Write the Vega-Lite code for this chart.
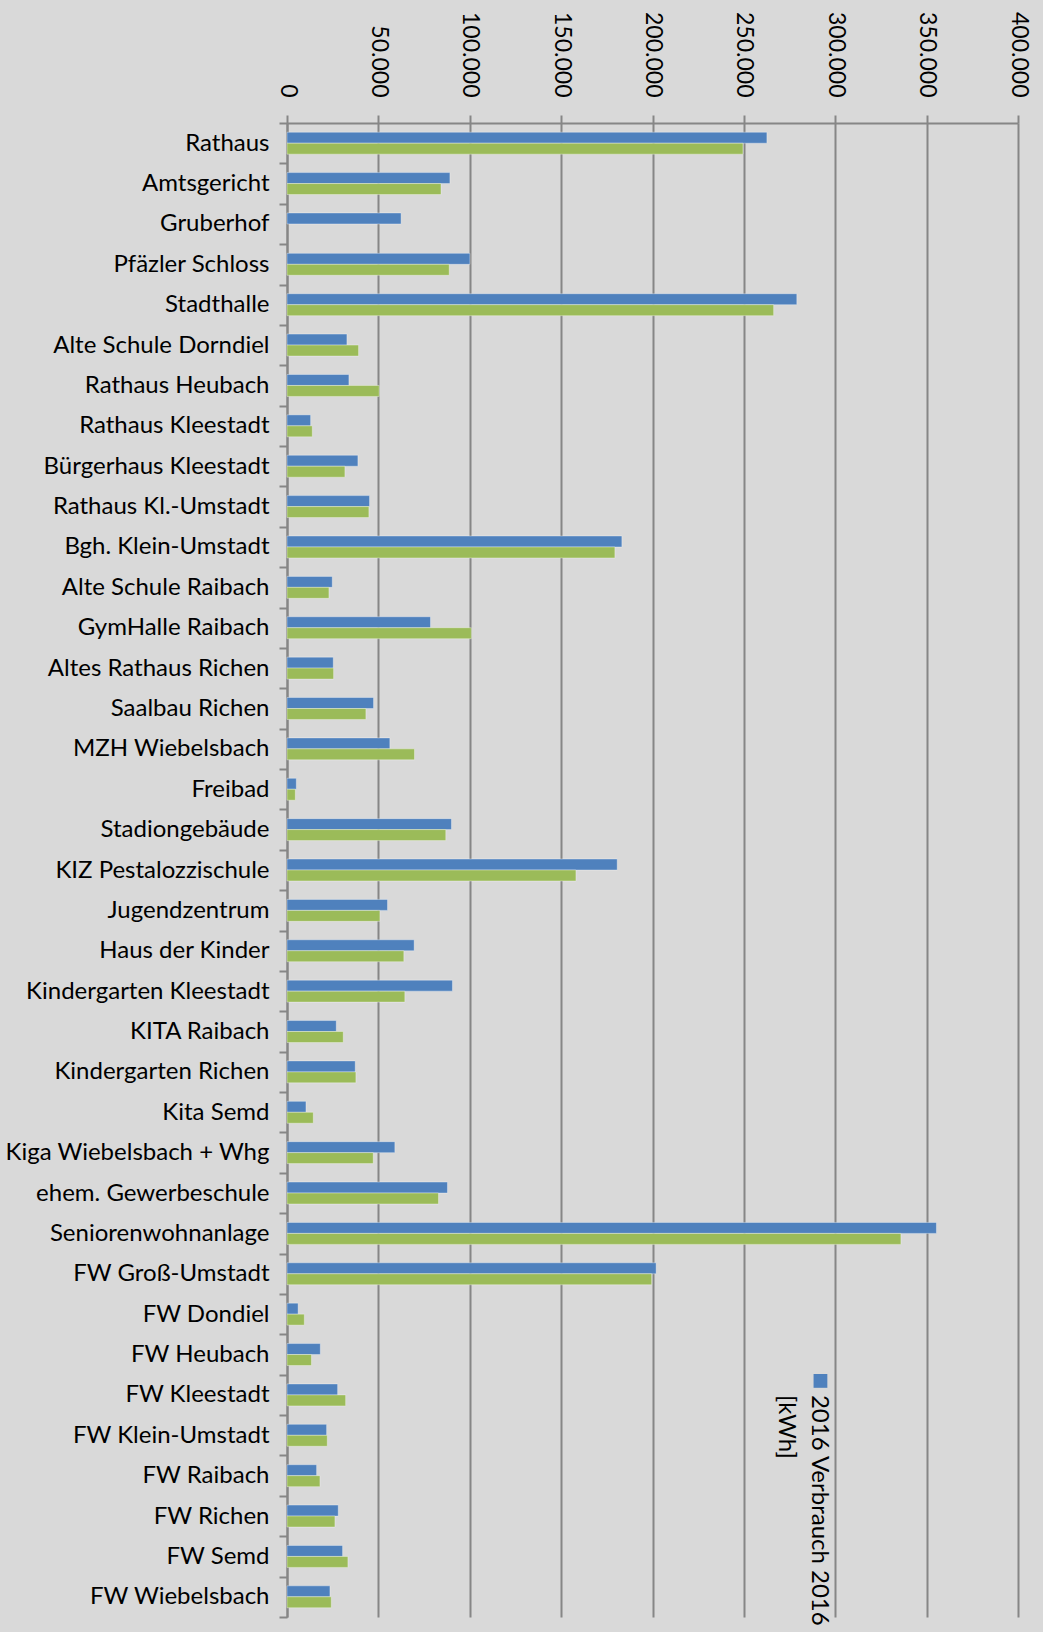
{
  "$schema": "https://vega.github.io/schema/vega-lite/v6.json",
  "width": 731,
  "height": 1494,
  "autosize": {"type": "none"},
  "padding": {"left": 287, "top": 123, "right": 25, "bottom": 15},
  "background": "#d9d9d9",
  "config": {
    "view": {"stroke": null},
    "font": "Lato"
  },
  "datasets": {
    "verbrauch": [
      {"gebaeude": "Rathaus", "serie": "2016", "kwh": 262600},
      {"gebaeude": "Rathaus", "serie": "2015", "kwh": 249500},
      {"gebaeude": "Amtsgericht", "serie": "2016", "kwh": 89150},
      {"gebaeude": "Amtsgericht", "serie": "2015", "kwh": 84270},
      {"gebaeude": "Gruberhof", "serie": "2016", "kwh": 62430},
      {"gebaeude": "Pfäzler Schloss", "serie": "2016", "kwh": 100100},
      {"gebaeude": "Pfäzler Schloss", "serie": "2015", "kwh": 88760},
      {"gebaeude": "Stadthalle ", "serie": "2016", "kwh": 278970},
      {"gebaeude": "Stadthalle ", "serie": "2015", "kwh": 266290},
      {"gebaeude": "Alte Schule Dorndiel", "serie": "2016", "kwh": 32790},
      {"gebaeude": "Alte Schule Dorndiel", "serie": "2015", "kwh": 39160},
      {"gebaeude": "Rathaus Heubach", "serie": "2016", "kwh": 33880},
      {"gebaeude": "Rathaus Heubach", "serie": "2015", "kwh": 50460},
      {"gebaeude": "Rathaus Kleestadt", "serie": "2016", "kwh": 12930},
      {"gebaeude": "Rathaus Kleestadt", "serie": "2015", "kwh": 13840},
      {"gebaeude": "Bürgerhaus Kleestadt", "serie": "2016", "kwh": 38800},
      {"gebaeude": "Bürgerhaus Kleestadt", "serie": "2015", "kwh": 31690},
      {"gebaeude": "Rathaus Kl.-Umstadt", "serie": "2016", "kwh": 45170},
      {"gebaeude": "Rathaus Kl.-Umstadt", "serie": "2015", "kwh": 44810},
      {"gebaeude": "Bgh. Klein-Umstadt", "serie": "2016", "kwh": 183240},
      {"gebaeude": "Bgh. Klein-Umstadt", "serie": "2015", "kwh": 179420},
      {"gebaeude": "Alte Schule Raibach", "serie": "2016", "kwh": 24770},
      {"gebaeude": "Alte Schule Raibach", "serie": "2015", "kwh": 22950},
      {"gebaeude": "GymHalle Raibach", "serie": "2016", "kwh": 78510},
      {"gebaeude": "GymHalle Raibach", "serie": "2015", "kwh": 100910},
      {"gebaeude": "Altes Rathaus Richen", "serie": "2016", "kwh": 25320},
      {"gebaeude": "Altes Rathaus Richen", "serie": "2015", "kwh": 25500},
      {"gebaeude": "Saalbau Richen", "serie": "2016", "kwh": 47360},
      {"gebaeude": "Saalbau Richen", "serie": "2015", "kwh": 43170},
      {"gebaeude": "MZH Wiebelsbach", "serie": "2016", "kwh": 56280},
      {"gebaeude": "MZH Wiebelsbach", "serie": "2015", "kwh": 69760},
      {"gebaeude": "Freibad", "serie": "2016", "kwh": 5100},
      {"gebaeude": "Freibad", "serie": "2015", "kwh": 4550},
      {"gebaeude": "Stadiongebäude", "serie": "2016", "kwh": 89980},
      {"gebaeude": "Stadiongebäude", "serie": "2015", "kwh": 86890},
      {"gebaeude": "KIZ Pestalozzischule", "serie": "2016", "kwh": 180690},
      {"gebaeude": "KIZ Pestalozzischule", "serie": "2015", "kwh": 158110},
      {"gebaeude": "Jugendzentrum", "serie": "2016", "kwh": 55010},
      {"gebaeude": "Jugendzentrum", "serie": "2015", "kwh": 50820},
      {"gebaeude": "Haus der Kinder", "serie": "2016", "kwh": 69580},
      {"gebaeude": "Haus der Kinder", "serie": "2015", "kwh": 63930},
      {"gebaeude": "Kindergarten Kleestadt", "serie": "2016", "kwh": 90530},
      {"gebaeude": "Kindergarten Kleestadt", "serie": "2015", "kwh": 64480},
      {"gebaeude": "KITA Raibach", "serie": "2016", "kwh": 26960},
      {"gebaeude": "KITA Raibach", "serie": "2015", "kwh": 30780},
      {"gebaeude": "Kindergarten Richen", "serie": "2016", "kwh": 37340},
      {"gebaeude": "Kindergarten Richen", "serie": "2015", "kwh": 37700},
      {"gebaeude": "Kita Semd ", "serie": "2016", "kwh": 10380},
      {"gebaeude": "Kita Semd ", "serie": "2015", "kwh": 14390},
      {"gebaeude": "Kiga Wiebelsbach + Whg", "serie": "2016", "kwh": 59020},
      {"gebaeude": "Kiga Wiebelsbach + Whg", "serie": "2015", "kwh": 47180},
      {"gebaeude": "ehem. Gewerbeschule", "serie": "2016", "kwh": 87800},
      {"gebaeude": "ehem. Gewerbeschule", "serie": "2015", "kwh": 82890},
      {"gebaeude": "Seniorenwohnanlage", "serie": "2016", "kwh": 355370},
      {"gebaeude": "Seniorenwohnanlage", "serie": "2015", "kwh": 335930},
      {"gebaeude": "FW Groß-Umstadt", "serie": "2016", "kwh": 201990},
      {"gebaeude": "FW Groß-Umstadt", "serie": "2015", "kwh": 199560},
      {"gebaeude": "FW Dondiel", "serie": "2016", "kwh": 6080},
      {"gebaeude": "FW Dondiel", "serie": "2015", "kwh": 9480},
      {"gebaeude": "FW Heubach", "serie": "2016", "kwh": 18230},
      {"gebaeude": "FW Heubach", "serie": "2015", "kwh": 13370},
      {"gebaeude": "FW Kleestadt", "serie": "2016", "kwh": 27710},
      {"gebaeude": "FW Kleestadt", "serie": "2015", "kwh": 32090},
      {"gebaeude": "FW Klein-Umstadt", "serie": "2016", "kwh": 21680},
      {"gebaeude": "FW Klein-Umstadt", "serie": "2015", "kwh": 22040},
      {"gebaeude": "FW Raibach ", "serie": "2016", "kwh": 16210},
      {"gebaeude": "FW Raibach ", "serie": "2015", "kwh": 18030},
      {"gebaeude": "FW Richen", "serie": "2016", "kwh": 28050},
      {"gebaeude": "FW Richen", "serie": "2015", "kwh": 26230},
      {"gebaeude": "FW Semd", "serie": "2016", "kwh": 30420},
      {"gebaeude": "FW Semd", "serie": "2015", "kwh": 33330},
      {"gebaeude": "FW Wiebelsbach", "serie": "2016", "kwh": 23500},
      {"gebaeude": "FW Wiebelsbach", "serie": "2015", "kwh": 24230}
    ],
    "legende": [
      {"serie": "2016", "text": ["2016 Verbrauch 2016", "[kWh]"]}
    ]
  },
  "layer": [
    {
      "data": {"name": "verbrauch"},
      "mark": {"type": "bar", "stroke": "#ffffff", "strokeOpacity": 0.35, "strokeWidth": 1},
      "encoding": {
        "y": {
          "field": "gebaeude",
          "type": "nominal",
          "sort": null,
          "scale": {"paddingInner": 0, "paddingOuter": 0},
          "axis": {
            "title": null,
            "orient": "left",
            "domainColor": "#868686",
            "domainWidth": 2,
            "tickColor": "#868686",
            "tickWidth": 2,
            "tickSize": 8,
            "tickBand": "extent",
            "labelFont": "Lato",
            "labelFontSize": 24,
            "labelColor": "#000000",
            "labelPadding": 10,
            "labelLimit": 400,
            "grid": false
          }
        },
        "yOffset": {
          "field": "serie",
          "type": "nominal",
          "sort": ["2016", "2015"],
          "scale": {"domain": ["2016", "2015"], "paddingInner": 0, "paddingOuter": 0.84}
        },
        "x": {
          "field": "kwh",
          "type": "quantitative",
          "scale": {"domain": [0, 400000], "nice": false},
          "axis": {
            "title": null,
            "orient": "top",
            "values": [0, 50000, 100000, 150000, 200000, 250000, 300000, 350000, 400000],
            "labelExpr": "datum.value == 0 ? '0' : replace(format(datum.value, ','), ',', '.')",
            "labelAngle": 90,
            "labelAlign": "right",
            "labelBaseline": "middle",
            "labelFont": "Lato",
            "labelFontSize": 23,
            "labelColor": "#000000",
            "labelPadding": 18,
            "labelFlush": false,
            "labelOverlap": false,
            "domainColor": "#868686",
            "domainWidth": 2,
            "tickColor": "#868686",
            "tickWidth": 2,
            "tickSize": 8,
            "grid": true,
            "gridColor": "#868686",
            "gridWidth": 2
          }
        },
        "color": {
          "field": "serie",
          "type": "nominal",
          "scale": {"domain": ["2016", "2015"], "range": ["#4f81bd", "#9bbb59"]},
          "legend": null
        }
      }
    },
    {
      "data": {"name": "legende"},
      "mark": {"type": "point", "shape": "square", "filled": true, "size": 190, "opacity": 1, "yOffset": -14},
      "encoding": {
        "x": {"datum": 291900, "type": "quantitative"},
        "y": {"datum": "FW Kleestadt", "type": "nominal"},
        "color": {"field": "serie", "type": "nominal", "legend": null}
      }
    },
    {
      "data": {"name": "legende"},
      "mark": {"type": "text", "angle": 90, "align": "left", "baseline": "top", "font": "Lato", "fontSize": 24, "lineHeight": 33, "color": "#000000"},
      "encoding": {
        "x": {"datum": 297600, "type": "quantitative"},
        "y": {"datum": "FW Kleestadt", "type": "nominal"},
        "text": {"field": "text"}
      }
    }
  ]
}
